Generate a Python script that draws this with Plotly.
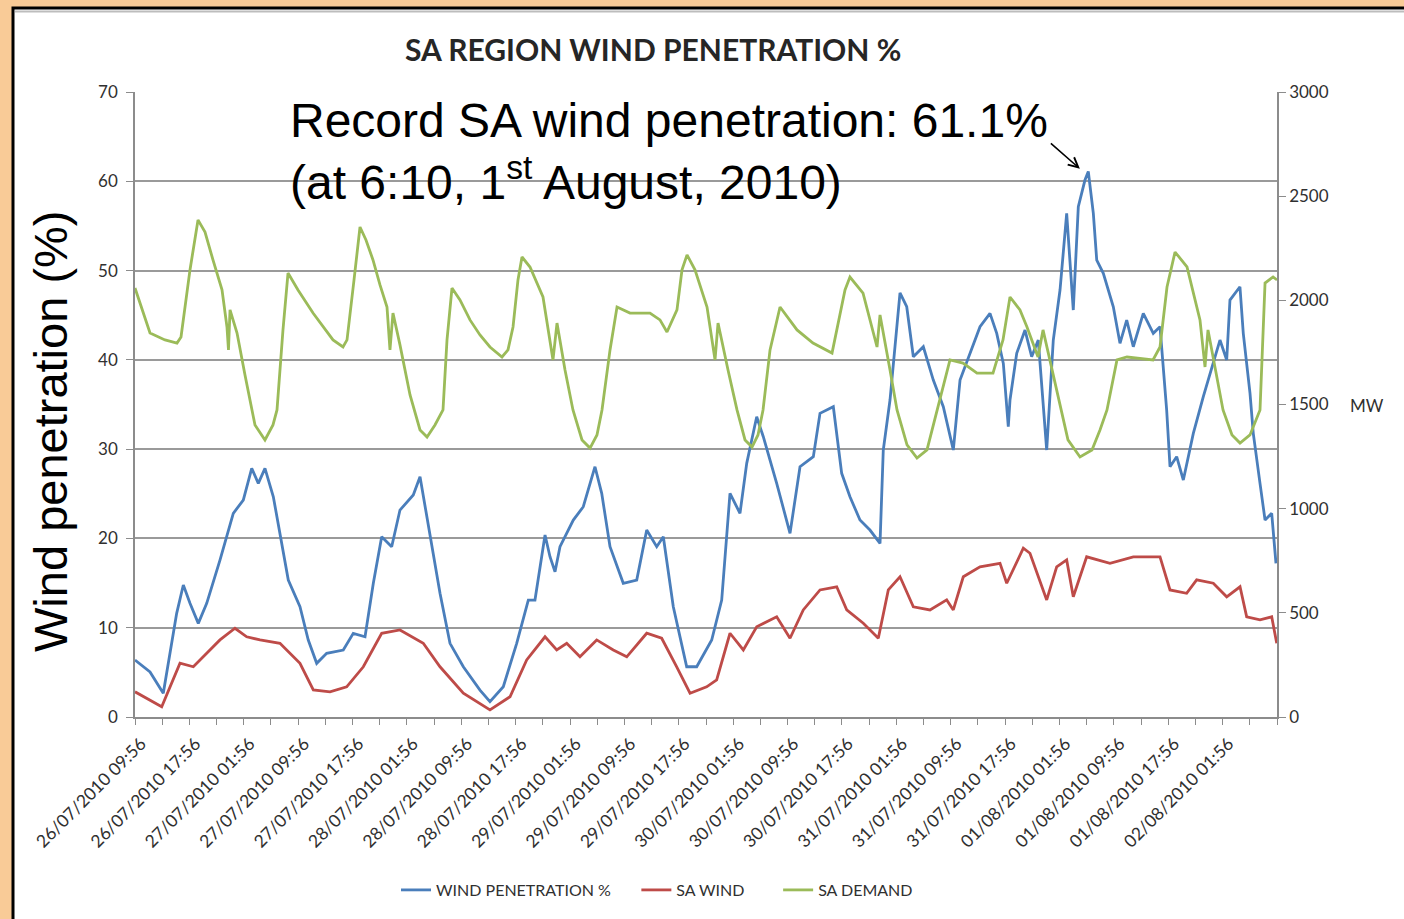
import plotly.graph_objects as go

# ---------------- data (hours since 26/07/2010 09:56) ----------------
pen_hours = [0.0, 2.21, 4.16, 6.13, 7.11, 8.09, 9.31, 10.55, 12.50, 14.46, 15.93, 17.17, 18.14, 19.12,
             20.35, 21.33, 22.55, 24.27, 25.49, 26.73, 28.20, 30.64, 32.11, 33.84, 35.06, 36.29, 37.76,
             38.98, 40.94, 41.93, 43.40, 44.87, 46.34, 48.30, 50.75, 52.22, 54.18, 56.15, 57.86, 58.84,
             60.32, 61.05, 61.79, 62.52, 64.48, 65.95, 67.67, 68.66, 69.88, 71.83, 73.81, 75.28, 76.75,
             77.72, 79.19, 81.16, 82.63, 84.84, 86.31, 87.53, 89.00, 89.99, 91.46, 92.43, 94.40, 96.36,
             97.83, 99.79, 100.77, 102.73, 103.96, 105.18, 106.65, 108.12, 109.60, 110.08, 111.07,
             112.54, 113.53, 114.50, 115.97, 117.44, 118.91, 120.38, 121.37, 122.84, 124.31, 125.78,
             126.77, 127.74, 128.47, 128.72, 129.71, 130.93, 131.91, 132.88, 134.12, 135.09, 136.08,
             137.06, 138.03, 138.77, 139.75, 140.24, 140.98, 141.48, 142.45, 143.92, 144.90, 145.89,
             146.86, 148.33, 149.80, 150.79, 151.77, 152.26, 153.24, 154.22, 155.69, 157.16, 159.61,
             160.60, 161.08, 162.55, 163.04, 164.03, 164.51, 165.50, 166.24, 167.22, 167.85]
pen_pct = [6.38, 5.04, 2.65, 11.61, 14.78, 12.73, 10.49, 12.73, 17.58, 22.81, 24.30, 27.85, 26.17, 27.85,
           24.67, 20.57, 15.34, 12.35, 8.62, 6.01, 7.13, 7.50, 9.37, 8.99, 14.97, 20.19, 19.07,
           23.18, 24.86, 26.91, 20.57, 13.85, 8.25, 5.63, 3.02, 1.71, 3.39, 8.25, 13.10, 13.10,
           20.38, 17.95, 16.27, 19.07, 22.06, 23.55, 28.03, 25.05, 19.07, 14.97, 15.34, 20.94, 19.07,
           20.19, 12.35, 5.63, 5.63, 8.62, 13.10, 25.05, 22.81, 28.41, 33.63, 31.39, 26.17, 20.57,
           28.03, 29.15, 34.01, 34.75, 27.29, 24.67, 22.06, 20.94, 19.45, 29.90, 35.50,
           47.49, 45.95, 40.35, 41.47, 37.74, 34.75, 29.90, 37.74, 40.73, 43.71, 45.21,
           42.97, 39.61, 32.51, 35.50, 40.73, 43.34, 40.35, 42.22, 29.90, 42.22, 47.82,
           56.41, 45.58, 57.15, 60.14, 61.10, 56.41, 51.18, 49.69, 45.95, 41.85, 44.46,
           41.47, 45.21, 42.97, 43.71, 34.38, 28.03, 29.15, 26.54, 31.77, 35.87, 42.22,
           39.98, 46.70, 48.19, 42.97, 36.25, 31.77, 26.17, 22.06, 22.81, 17.21]

wind_hours = [0.0, 3.93, 6.62, 8.58, 10.55, 12.50, 14.71, 16.43, 18.39, 21.33, 24.27, 26.23, 28.69,
              31.14, 33.59, 36.29, 38.98, 42.41, 44.87, 48.30, 52.22, 55.17, 57.62, 60.32, 62.04,
              63.51, 65.46, 67.92, 70.36, 72.34, 75.28, 77.48, 79.69, 81.65, 84.10, 85.57, 87.53,
              89.49, 91.46, 94.40, 96.36, 98.31, 100.77, 103.23, 104.70, 107.14, 109.35, 110.82,
              112.54, 114.50, 116.95, 119.41, 120.38, 121.85, 124.31, 127.25, 128.24, 130.68,
              131.66, 134.12, 135.59, 137.06, 138.03, 140.00, 143.43, 146.86, 150.79, 152.26,
              154.71, 156.18, 158.63, 160.60, 162.56, 163.54, 165.50, 167.22, 167.96]
wind_mw = [121, 49, 258, 241, 306, 370, 426, 385, 370, 354, 258, 130, 121,
           145, 241, 402, 418, 354, 241, 114, 34, 97, 274, 385, 322,
           354, 289, 370, 322, 289, 402, 378, 241, 114, 145, 178, 402,
           322, 433, 481, 378, 514, 610, 625, 514, 450, 378, 610,
           673, 529, 514, 562, 514, 673, 721, 738, 642, 810,
           786, 562, 721, 754, 577, 769, 738, 769, 769, 610,
           594, 658, 642, 577, 625, 481, 466, 481, 354]

demand_hours = [0.0, 2.21, 4.41, 6.18, 6.77, 8.09, 9.27, 10.30, 11.47, 12.80, 13.53, 13.75, 13.98,
                15.01, 16.18, 17.65, 19.12, 20.30, 20.89, 21.77, 22.51, 23.98, 26.19, 29.13, 30.60,
                31.19, 32.22, 33.10, 33.98, 35.01, 36.04, 37.07, 37.51, 37.95, 38.98, 40.46, 41.93,
                42.96, 44.13, 45.31, 45.90, 46.63, 47.81, 49.28, 50.75, 52.22, 53.99, 54.87, 55.61,
                56.34, 56.93, 58.11, 60.02, 61.49, 62.08, 63.26, 64.43, 65.76, 66.94, 67.96, 68.70,
                69.88, 70.91, 72.82, 75.76, 77.23, 78.26, 79.73, 80.47, 81.21, 82.38, 84.15, 85.33,
                85.77, 87.24, 88.56, 89.74, 90.77, 91.65, 92.39, 93.42, 94.89, 97.39, 99.74, 102.54,
                103.71, 104.45, 105.18, 107.10, 109.16, 109.60, 111.07, 112.10, 113.57, 115.04,
                116.51, 117.98, 119.89, 121.81, 123.87, 126.22, 127.69, 128.72, 130.19, 131.22,
                132.84, 133.58, 135.64, 137.25, 139.02, 140.78, 141.96, 142.99, 144.46, 145.93,
                149.76, 150.79, 151.82, 153.00, 154.76, 156.67, 157.41, 157.85, 160.06, 161.38,
                162.56, 164.03, 165.50, 166.24, 167.42, 168.00]
demand_mw = [2059, 1843, 1810, 1795, 1824, 2146, 2386, 2328, 2194, 2050, 1872, 1762, 1954,
             1843, 1642, 1402, 1330, 1402, 1474, 1858, 2131, 2050, 1939, 1810, 1776,
             1810, 2098, 2352, 2290, 2194, 2074, 1968, 1762, 1939, 1786, 1546, 1378,
             1344, 1402, 1474, 1810, 2059, 2002, 1906, 1834, 1776, 1728, 1762, 1872,
             2098, 2208, 2160, 2016, 1714, 1891, 1666, 1474, 1330, 1291, 1354, 1474,
             1762, 1968, 1939, 1939, 1906, 1848, 1954, 2146, 2218, 2146, 1968, 1714,
             1891, 1666, 1474, 1330, 1296, 1354, 1474, 1762, 1968, 1858, 1795, 1747,
             1939, 2050, 2112, 2035, 1776, 1930, 1666, 1474, 1306, 1243,
             1282, 1474, 1714, 1699, 1651, 1651, 1810, 2016, 1954, 1872,
             1728, 1858, 1555, 1330, 1248, 1282, 1378, 1474, 1714, 1728,
             1714, 1776, 2064, 2232, 2160, 1906, 1680, 1858, 1474, 1354,
             1315, 1354, 1474, 2083, 2112, 2098]

tick_hours = list(range(0, 169, 4))
label_texts = ["26/07/2010 09:56", "26/07/2010 17:56", "27/07/2010 01:56", "27/07/2010 09:56",
               "27/07/2010 17:56", "28/07/2010 01:56", "28/07/2010 09:56", "28/07/2010 17:56",
               "29/07/2010 01:56", "29/07/2010 09:56", "29/07/2010 17:56", "30/07/2010 01:56",
               "30/07/2010 09:56", "30/07/2010 17:56", "31/07/2010 01:56", "31/07/2010 09:56",
               "31/07/2010 17:56", "01/08/2010 01:56", "01/08/2010 09:56", "01/08/2010 17:56",
               "02/08/2010 01:56"]
tick_texts = []
for i, h in enumerate(tick_hours):
    if i % 2 == 0 and i // 2 < len(label_texts):
        tick_texts.append(label_texts[i // 2])
    else:
        tick_texts.append(" ")

left_ticks = [0, 10, 20, 30, 40, 50, 60, 70]
right_ticks = [0, 500, 1000, 1500, 2000, 2500, 3000]

BLUE = "#4A7EBB"
RED = "#BE4B48"
GREEN = "#9BBB59"
YTICKFONT = dict(family="Lato", size=17, color="#303030")
XTICKFONT = dict(family="Lato", size=17.5, color="#303030")
NB = "\u00a0"

# plot area in pixels
L, R, T, B = 135, 1277, 92, 717
W, H = 1404, 919
PW, PH = R - L, B - T


def px_x(px):
    return (px - L) / PW


def px_y(py):
    return (B - py) / PH


fig = go.Figure()
fig.add_trace(go.Scatter(x=pen_hours, y=pen_pct, name="WIND PENETRATION %" + NB * 5, mode="lines",
                         line=dict(color=BLUE, width=2.8), yaxis="y"))
fig.add_trace(go.Scatter(x=wind_hours, y=wind_mw, name="SA WIND" + NB * 7, mode="lines",
                         line=dict(color=RED, width=2.8), yaxis="y2"))
fig.add_trace(go.Scatter(x=demand_hours, y=demand_mw, name="SA DEMAND", mode="lines",
                         line=dict(color=GREEN, width=2.8), yaxis="y2"))

shapes = [
    dict(type="rect", xref="paper", yref="paper", x0=px_x(13), x1=px_x(1430), y0=px_y(950), y1=px_y(8),
         fillcolor="white", line=dict(color="black", width=3), layer="below"),
    dict(type="line", xref="paper", yref="paper", x0=px_x(15), x1=px_x(1430), y0=px_y(11.5), y1=px_y(11.5),
         line=dict(color="#BDBDBD", width=2), layer="below"),
]

annotations = [
    dict(text="<b>SA REGION WIND PENETRATION %</b>", xref="paper", yref="paper",
         x=px_x(653), y=px_y(49), xanchor="center", yanchor="middle", showarrow=False,
         font=dict(family="Lato", size=30, color="#262626")),
    dict(text="Wind penetration (%)", xref="paper", yref="paper", x=px_x(50), y=px_y(432),
         xanchor="center", yanchor="middle", textangle=-90, showarrow=False,
         font=dict(family="Liberation Sans, Arial", size=47, color="black")),
    dict(text="Record SA wind penetration: 61.1%<br>(at 6:10, 1<sup>st</sup> August, 2010)",
         xref="paper", yref="paper", x=px_x(288), y=px_y(151), xanchor="left", yanchor="middle",
         align="left", showarrow=False,
         font=dict(family="Liberation Sans, Arial", size=48, color="black")),
    dict(text=" ", x=139.0, y=61.4, xref="x", yref="y", showarrow=True, arrowhead=5,
         arrowsize=1.2, arrowwidth=1.6, arrowcolor="black", ax=-32, ay=-28, axref="pixel", ayref="pixel"),
    dict(text="MW", xref="paper", yref="paper", x=px_x(1367), y=px_y(405), xanchor="center",
         yanchor="middle", showarrow=False, font=dict(family="Lato", size=17, color="#303030")),
]

fig.update_layout(
    width=W, height=H,
    margin=dict(l=L, r=W - R, t=T, b=H - B),
    paper_bgcolor="#F9CB97",
    plot_bgcolor="rgba(0,0,0,0)",
    showlegend=True,
    legend=dict(orientation="h", x=px_x(657), y=px_y(890), xanchor="center", yanchor="middle",
                font=dict(family="Lato", size=16, color="#303030"), bgcolor="rgba(0,0,0,0)",
                itemwidth=30, tracegroupgap=0),
    xaxis=dict(range=[0, 168], tickmode="array", tickvals=tick_hours, ticktext=tick_texts,
               tickangle=-45, ticks="outside", ticklen=6, tickcolor="#8C8C8C", showgrid=False,
               showline=True, linecolor="#8C8C8C", linewidth=1.5, zeroline=False, tickfont=XTICKFONT,
               ticklabelshift=6, ticklabelstandoff=2),
    yaxis=dict(range=[0, 70], tickmode="array", tickvals=left_ticks, ticks="outside", ticklen=7,
               tickcolor="#8C8C8C", showgrid=True, gridcolor="#9A9A9A", gridwidth=1.5,
               showline=True, linecolor="#8C8C8C", linewidth=1.5, zeroline=False, tickfont=YTICKFONT,
               ticklabelstandoff=5),
    yaxis2=dict(range=[0, 3000], tickmode="array", tickvals=right_ticks, overlaying="y", side="right",
                ticks="outside", ticklen=7, tickcolor="#8C8C8C", showgrid=False, showline=True,
                linecolor="#8C8C8C", linewidth=1.5, zeroline=False, tickfont=YTICKFONT),
    shapes=shapes,
    annotations=annotations,
)

fig.write_html("out.html", config={"displayModeBar": False},
               post_script="document.body.style.margin='0';")
